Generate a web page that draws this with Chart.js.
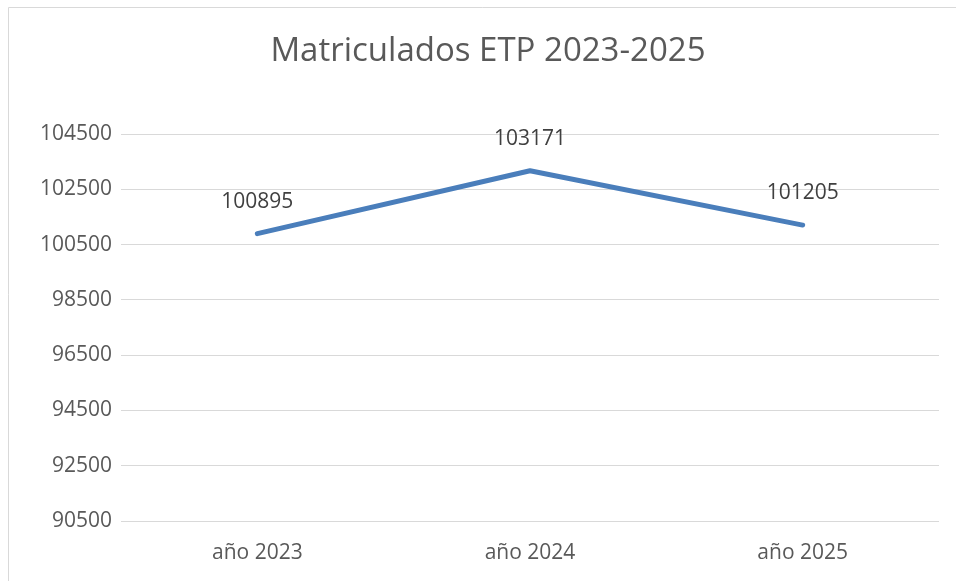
<!DOCTYPE html>
<html>
<head>
<meta charset="utf-8">
<script src="https://cdn.jsdelivr.net/npm/chart.js@4.4.1/dist/chart.umd.min.js"></script>
<style>
  html, body { margin: 0; padding: 0; background: #fff; }
  #wrap { width: 956px; height: 581px; position: relative; }
</style>
</head>
<body>
<div id="wrap"><canvas id="chart" width="956" height="581"></canvas></div>
<script>
// data
const chartTitle = 'Matriculados ETP 2023-2025';
const categories = ['año 2023', 'año 2024', 'año 2025'];
const matriculados = [100895, 103171, 101205];
const yMin = 90500;
const yMax = 104500;
const yStep = 2000;

const FONT = "'Open Sans', 'Liberation Sans', sans-serif";

// frame, title and value labels (excel style)
const excelLook = {
    id: 'excelLook',
    beforeDraw: (chart) => {
        const ctx = chart.ctx;
        ctx.save();
        ctx.strokeStyle = '#d9d9d9';
        ctx.lineWidth = 1;
        ctx.beginPath();
        ctx.moveTo(8.5, 581);
        ctx.lineTo(8.5, 7.5);
        ctx.lineTo(956, 7.5);
        ctx.stroke();
        ctx.restore();
    },
    afterDatasetsDraw: (chart) => {
        const ctx = chart.ctx;
        ctx.save();
        // title
        ctx.fillStyle = '#595959';
        ctx.font = '33px ' + FONT;
        ctx.textAlign = 'center';
        ctx.textBaseline = 'middle';
        ctx.fillText(chartTitle, 488, 52);
        // value labels above each point
        ctx.fillStyle = '#404040';
        ctx.font = '21px ' + FONT;
        const meta = chart.getDatasetMeta(0);
        meta.data.forEach((pt, i) => {
            ctx.fillText(String(matriculados[i]), pt.x, pt.y - 32);
        });
        ctx.restore();
    }
};

const ctx = document.getElementById('chart').getContext('2d');
const myChart = new Chart(ctx, {
    type: 'line',
    data: {
        labels: categories,
        datasets: [{
            label: 'Matriculados',
            data: matriculados,
            borderColor: '#4a7ebb',
            borderWidth: 5,
            borderCapStyle: 'round',
            borderJoinStyle: 'round',
            pointRadius: 0,
            fill: false,
            tension: 0
        }]
    },
    options: {
        responsive: false,
        animation: false,
        layout: { padding: { left: 0, right: 17, top: 134, bottom: 0 } },
        plugins: {
            legend: { display: false },
            title: { display: false },
            tooltip: { enabled: false }
        },
        scales: {
            x: {
                offset: true,
                grid: { display: false, drawTicks: false },
                border: { display: false },
                ticks: { color: '#595959', font: { family: FONT, size: 21 }, padding: 19 },
                afterFit: (scale) => { scale.height = 60; }
            },
            y: {
                min: yMin,
                max: yMax,
                grid: { color: '#d9d9d9', lineWidth: 1, drawTicks: false },
                border: { display: false },
                ticks: {
                    stepSize: yStep,
                    color: '#595959',
                    font: { family: FONT, size: 21 },
                    padding: 9,
                    callback: (v) => String(v)
                },
                afterFit: (scale) => { scale.width = 121; }
            }
        }
    },
    plugins: [excelLook]
});
</script>
</body>
</html>
